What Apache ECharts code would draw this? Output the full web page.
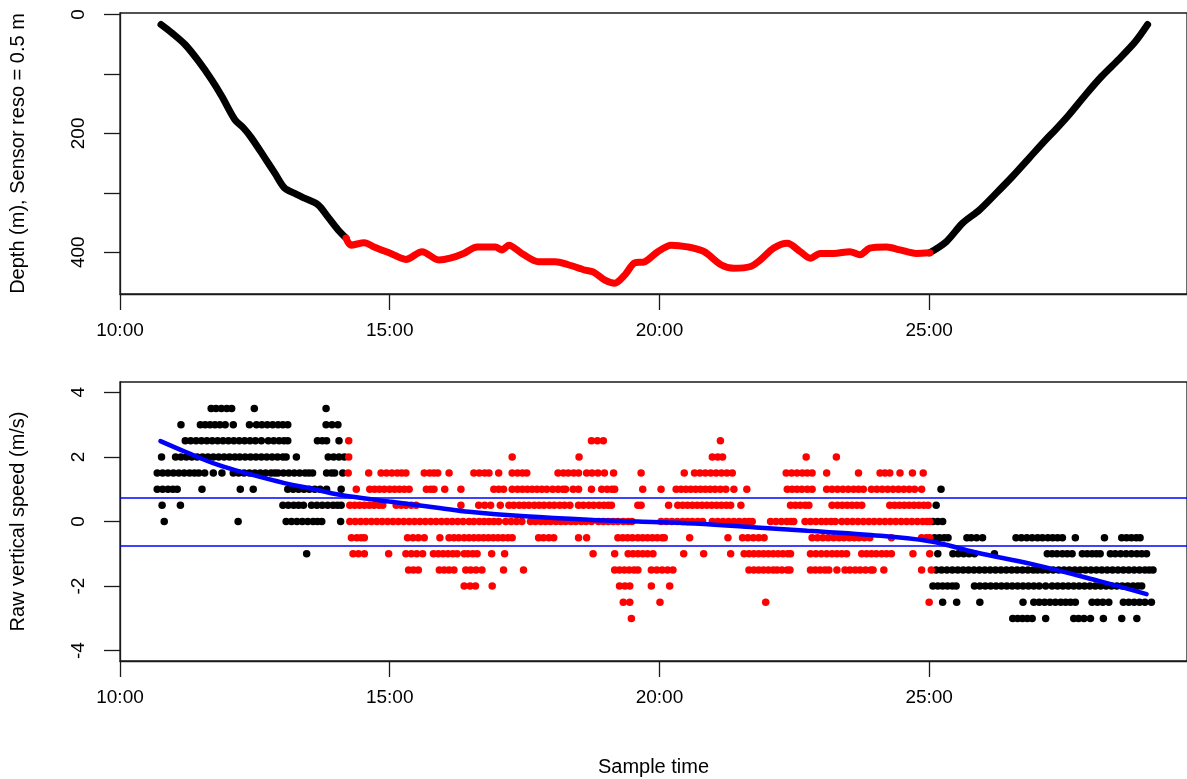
<!DOCTYPE html>
<html><head><meta charset="utf-8">
<script src="https://cdn.jsdelivr.net/npm/echarts@6/dist/echarts.min.js"></script>
<style>html,body{margin:0;padding:0;background:#fff}#c{width:1187px;height:779px}</style>
</head><body><div id="c"></div>
<script>
// ---------- Data (time in minutes, depth in m, speed in m/s) ----------
const depthDescent = [[10.76,17],[10.96,31],[11.21,51],[11.46,79],[11.70,110],[11.89,138],[12.13,177],[12.29,191],[12.44,208],[12.69,242],[12.87,267],[13.05,292],[13.24,301],[13.42,309],[13.67,320],[13.85,340],[14.04,362],[14.19,376]];
const depthBottom = [[14.19,376],[14.28,388],[14.53,384],[14.71,391],[15.02,402],[15.30,412],[15.60,399],[15.91,413],[16.12,410],[16.37,402],[16.62,391],[16.96,391],[17.08,396],[17.21,388],[17.45,402],[17.76,416],[18.07,416],[18.31,421],[18.62,430],[18.77,433],[18.99,447],[19.17,452],[19.36,438],[19.54,418],[19.73,416],[19.97,399],[20.22,388],[20.52,391],[20.83,399],[21.14,421],[21.38,427],[21.69,424],[21.87,413],[22.12,393],[22.37,385],[22.61,399],[22.80,410],[22.98,402],[23.23,402],[23.53,399],[23.72,404],[23.90,393],[24.21,391],[24.46,396],[24.76,402],[25.01,401]];
const depthAscent = [[25.01,401],[25.32,382],[25.62,351],[25.93,329],[26.24,301],[26.54,273],[26.85,242],[27.16,211],[27.34,194],[27.59,169],[27.90,135],[28.20,104],[28.51,76],[28.82,46],[29.05,17]];

const speedLevels = [3.5, 3, 2.5, 2, 1.5, 1, 0.5, 0, -0.5, -1, -1.5, -2, -2.5, -3];

// sample times (min) of black (descent/ascent) speed samples, one list per level above
const blackTimes = [
  [11.69,11.78,11.88,11.98,12.07,12.49,13.82],
  [11.13,11.49,11.58,11.67,11.76,11.85,11.95,12.10,12.40,12.53,12.63,12.73,12.83,12.93,13.02,13.11,13.82,13.93,14.04],
  [11.21,11.31,11.41,11.51,11.61,11.71,11.81,11.91,12.01,12.11,12.21,12.31,12.41,12.51,12.62,12.75,12.85,12.95,13.04,13.11,13.66,13.75,13.83,14.06],
  [10.77,11.03,11.13,11.23,11.33,11.43,11.53,11.63,11.73,11.83,11.93,12.03,12.13,12.22,12.32,12.42,12.52,12.62,12.72,12.82,12.92,13.02,13.08,13.27,13.86,13.96,14.06,14.16],
  [10.69,10.79,10.89,10.99,11.09,11.19,11.29,11.38,11.46,11.57,11.73,11.89,12.10,12.20,12.30,12.40,12.50,12.60,12.70,12.80,12.87,12.93,13.03,13.13,13.23,13.33,13.43,13.50,13.57,13.83,13.92,13.98,14.13],
  [10.69,10.79,10.89,10.98,11.06,11.52,12.23,12.47,13.11,13.21,13.31,13.41,13.51,13.61,13.71,13.83,14.10,25.22],
  [10.78,11.12,13.02,13.12,13.22,13.31,13.40,13.55,13.65,13.75,13.85,13.95,14.03,14.10,25.13],
  [10.82,12.19,13.08,13.18,13.28,13.38,13.48,13.58,13.66,13.74,14.09,25.07,25.16,25.25],
  [25.10,25.19,25.28,25.35,25.70,25.78,25.88,25.99,26.61,26.71,26.81,26.91,27.01,27.10,27.20,27.29,27.38,27.47,27.71,28.25,28.57,28.66,28.75,28.84,28.91],
  [13.46,25.16,25.44,25.54,25.64,25.74,25.84,26.21,27.19,27.28,27.37,27.47,27.56,27.65,27.84,27.93,28.02,28.10,28.17,28.36,28.45,28.55,28.65,28.75,28.85,28.94,29.03],
  [25.13,25.23,25.33,25.43,25.53,25.63,25.73,25.83,25.93,26.03,26.13,26.23,26.33,26.43,26.53,26.63,26.73,26.83,26.93,27.01,27.10,27.20,27.30,27.40,27.50,27.60,27.70,27.80,27.90,28.00,28.10,28.20,28.30,28.40,28.50,28.60,28.70,28.80,28.90,29.00,29.08,29.15],
  [25.07,25.16,25.25,25.34,25.43,25.50,25.84,25.94,26.04,26.14,26.24,26.34,26.44,26.54,26.64,26.74,26.84,26.94,27.04,27.16,27.28,27.38,27.48,27.58,27.68,27.78,27.88,27.98,28.08,28.18,28.28,28.38,28.48,28.58,28.68,28.78,28.87,28.94],
  [25.25,25.51,25.94,26.74,26.94,27.04,27.14,27.24,27.34,27.44,27.53,27.62,27.71,28.02,28.12,28.22,28.33,28.60,28.70,28.80,28.90,29.00,29.12],
  [26.55,26.64,26.73,26.82,26.91,27.16,27.68,27.77,27.87,27.99,28.23,28.57,28.85]
];

// sample times (min) of red (bottom phase) speed samples, one list per level
const redTimes = [
  [],
  [],
  [14.24,18.74,18.85,18.96,21.13],
  [14.24,17.27,18.51,20.98,21.08,21.17,22.72,23.28],
  [14.23,14.61,14.84,14.94,15.04,15.14,15.22,15.30,15.64,15.74,15.82,15.89,16.10,16.56,16.66,16.76,16.84,17.02,17.27,17.37,17.46,17.54,18.12,18.22,18.31,18.41,18.50,18.65,18.75,18.86,18.98,19.15,19.66,20.46,20.65,20.75,20.85,20.95,21.05,21.15,21.25,21.35,22.35,22.45,22.55,22.65,22.74,22.83,23.10,23.69,24.09,24.18,24.27,24.46,24.69,24.89],
  [14.38,14.63,14.72,14.81,14.90,15.00,15.09,15.18,15.27,15.36,15.68,15.76,15.82,16.02,16.32,16.93,17.02,17.11,17.27,17.37,17.46,17.55,17.64,17.73,17.82,17.91,18.02,18.12,18.21,18.26,18.40,18.50,18.74,18.93,19.03,19.12,19.17,19.69,20.03,20.31,20.40,20.49,20.58,20.67,20.76,20.85,20.94,21.03,21.13,21.23,21.38,21.62,22.37,22.46,22.55,22.64,22.74,22.83,23.10,23.20,23.30,23.40,23.50,23.60,23.69,23.78,23.93,24.03,24.13,24.23,24.33,24.43,24.53,24.63,24.73,24.86],
  [14.26,14.35,14.44,14.53,14.62,14.71,14.80,14.87,15.12,15.21,15.30,15.40,15.49,16.32,16.65,16.76,16.87,17.05,17.21,17.30,17.40,17.49,17.58,17.68,17.77,17.86,17.96,18.05,18.15,18.24,18.34,18.50,18.59,18.69,18.78,18.88,18.97,19.05,19.11,19.60,19.66,20.17,20.34,20.43,20.52,20.61,20.70,20.79,20.88,20.97,21.06,21.15,21.24,21.32,21.51,22.43,22.52,22.61,22.70,22.77,23.20,23.30,23.39,23.48,23.57,23.66,23.75,24.27,24.36,24.45,24.54,24.63,24.72,24.81,24.90,24.98],
  [14.26,14.36,14.46,14.56,14.66,14.76,14.86,14.96,15.06,15.16,15.26,15.36,15.46,15.56,15.66,15.76,15.86,15.96,16.06,16.16,16.26,16.36,16.47,16.56,16.66,16.75,16.84,16.93,17.02,17.15,17.25,17.35,17.45,17.61,17.70,17.80,17.89,17.98,18.08,18.17,18.26,18.36,18.45,18.55,18.64,18.74,18.87,18.96,19.05,19.14,19.23,19.33,19.42,19.49,20.03,20.13,20.23,20.33,20.43,20.52,20.61,20.71,20.80,20.98,21.08,21.18,21.28,21.38,21.48,21.58,21.66,21.72,22.06,22.16,22.26,22.36,22.44,22.49,22.70,22.80,22.90,23.00,23.09,23.18,23.26,23.38,23.48,23.58,23.68,23.78,23.88,23.98,24.08,24.18,24.28,24.38,24.48,24.58,24.68,24.78,24.88,24.96,25.01],
  [14.29,14.39,14.47,14.53,15.33,15.43,15.53,15.64,15.93,16.10,16.19,16.28,16.38,16.47,16.56,16.65,16.74,16.83,16.92,17.01,17.10,17.19,17.27,17.76,17.85,17.95,18.04,18.50,18.65,19.23,19.32,19.41,19.50,19.60,19.69,19.78,19.87,19.96,20.05,20.09,20.56,21.27,21.54,21.64,21.74,21.84,21.94,22.83,22.93,23.03,23.13,23.23,23.33,23.42,23.52,23.61,23.70,23.80,23.90,24.30,24.86,24.95,25.01],
  [14.32,14.42,14.53,14.98,15.30,15.40,15.50,15.61,15.81,15.90,15.99,16.08,16.17,16.25,16.38,16.45,16.54,16.62,16.89,17.13,18.77,19.17,19.42,19.51,19.60,19.69,19.78,19.88,20.45,20.82,21.32,21.57,21.66,21.75,21.84,21.93,22.02,22.11,22.20,22.29,22.38,22.43,22.80,22.90,23.00,23.10,23.20,23.29,23.38,23.47,23.75,23.84,23.93,24.02,24.12,24.21,24.30,24.70,25.01],
  [15.35,15.44,15.53,15.92,16.01,16.10,16.19,16.41,16.50,16.60,16.71,17.11,17.48,19.17,19.26,19.35,19.44,19.53,19.60,19.85,19.95,20.05,20.15,20.25,21.66,21.75,21.84,21.93,22.02,22.11,22.18,22.27,22.37,22.42,22.80,22.89,22.98,23.07,23.14,23.29,23.44,23.53,23.63,23.72,23.82,23.92,23.96,24.16,24.86,25.04],
  [16.38,16.49,16.59,16.90,19.26,19.36,19.45,19.85,20.19],
  [19.33,19.45,20.01,21.97,25.00],
  [19.48]
];

// smoothed speed trend (blue curve)
const speedTrend = [[10.75,2.49],[11.21,2.16],[11.82,1.75],[12.44,1.45],[13.05,1.19],[13.60,1.00],[14.07,0.83],[14.99,0.62],[15.92,0.42],[16.47,0.30],[17.51,0.16],[18.74,0.05],[19.60,0.00],[20.65,-0.06],[21.87,-0.19],[22.74,-0.29],[23.78,-0.40],[25.01,-0.61],[25.87,-0.96],[26.91,-1.32],[28.14,-1.84],[29.03,-2.25]];
const speedThresholds = [0.75, -0.75];

const xTicks = [10, 15, 20, 25];
const depthTicks = [0, 100, 200, 300, 400];
const depthLabels = [0, 200, 400];
const speedTicks = [-4, -2, 0, 2, 4];

// ---------- Build ----------
function expand(times) {
  const out = [];
  times.forEach((list, i) => list.forEach(t => out.push([t, speedLevels[i]])));
  return out;
}
const FONT = 'Liberation Sans, Arial, sans-serif';
const AX = '#1a1a1a';

function xAxisCfg(gi, extra) {
  return Object.assign({
    gridIndex: gi, type: 'value', min: 10, max: 29.78, position: 'bottom',
    axisLine: {show: true, onZero: false, lineStyle: {color: AX, width: 1.3}},
    axisTick: {show: true, inside: false, length: 16, customValues: xTicks, lineStyle: {color: AX, width: 1.3}},
    axisLabel: {customValues: xTicks, formatter: v => Math.round(v) + ':00', fontSize: 19, color: '#000', margin: 27, fontFamily: FONT},
    splitLine: {show: false}
  }, extra || {});
}

const chart = echarts.init(document.getElementById('c'), null, {renderer: 'canvas'});
chart.setOption({
  animation: false,
  backgroundColor: '#fff',
  textStyle: {fontFamily: FONT},
  grid: [
    {left: 119, right: -5, top: 13, height: 281, show: true, borderColor: AX, borderWidth: 1.3, backgroundColor: 'transparent'},
    {left: 119, right: -5, top: 382, height: 279, show: true, borderColor: AX, borderWidth: 1.3, backgroundColor: 'transparent'}
  ],
  xAxis: [
    xAxisCfg(0),
    xAxisCfg(1, {name: 'Sample time', nameLocation: 'middle', nameGap: 96, nameTextStyle: {fontSize: 20, color: '#000', fontFamily: FONT}})
  ],
  yAxis: [
    {gridIndex: 0, type: 'value', inverse: true, min: -2.4, max: 470.2, position: 'left',
     axisLine: {show: true, onZero: false, lineStyle: {color: AX, width: 1.3}},
     axisTick: {show: true, length: 16, customValues: depthTicks, lineStyle: {color: AX, width: 1.3}},
     axisLabel: {customValues: depthLabels, rotate: 90, fontSize: 19, color: '#000', margin: 32, fontFamily: FONT},
     splitLine: {show: false},
     name: 'Depth (m), Sensor reso = 0.5 m', nameLocation: 'middle', nameGap: 92,
     nameTextStyle: {fontSize: 20, color: '#000', fontFamily: FONT}},
    {gridIndex: 1, type: 'value', min: -4.32, max: 4.32, position: 'left',
     axisLine: {show: true, onZero: false, lineStyle: {color: AX, width: 1.3}},
     axisTick: {show: true, length: 16, customValues: speedTicks, lineStyle: {color: AX, width: 1.3}},
     axisLabel: {customValues: speedTicks, rotate: 90, fontSize: 19, color: '#000', margin: 32, fontFamily: FONT},
     splitLine: {show: false},
     name: 'Raw vertical speed (m/s)', nameLocation: 'middle', nameGap: 92,
     nameTextStyle: {fontSize: 20, color: '#000', fontFamily: FONT}}
  ],
  series: [
    {type: 'line', xAxisIndex: 0, yAxisIndex: 0, data: depthDescent, showSymbol: false, silent: true, smooth: 0.3,
     lineStyle: {color: '#000', width: 7, cap: 'round', join: 'round'}},
    {type: 'line', xAxisIndex: 0, yAxisIndex: 0, data: depthAscent, showSymbol: false, silent: true, smooth: 0.3,
     lineStyle: {color: '#000', width: 7, cap: 'round', join: 'round'}},
    {type: 'line', xAxisIndex: 0, yAxisIndex: 0, data: depthBottom, showSymbol: false, silent: true, smooth: 0.3,
     lineStyle: {color: '#ff0000', width: 7, cap: 'round', join: 'round'}},
    {type: 'scatter', xAxisIndex: 1, yAxisIndex: 1, data: expand(blackTimes), symbolSize: 7.5, silent: true,
     itemStyle: {color: '#000', opacity: 1}},
    {type: 'scatter', xAxisIndex: 1, yAxisIndex: 1, data: expand(redTimes), symbolSize: 7.5, silent: true,
     itemStyle: {color: '#ff0000', opacity: 1}},
    {type: 'line', xAxisIndex: 1, yAxisIndex: 1, data: speedTrend, showSymbol: false, smooth: 0.4, silent: true,
     lineStyle: {color: '#0000ff', width: 4.5, cap: 'round'},
     markLine: {silent: true, symbol: 'none', label: {show: false},
       lineStyle: {color: '#0000ff', width: 1.5, type: 'solid'},
       data: speedThresholds.map(v => ({yAxis: v}))}}
  ]
});
</script>
</body></html>
